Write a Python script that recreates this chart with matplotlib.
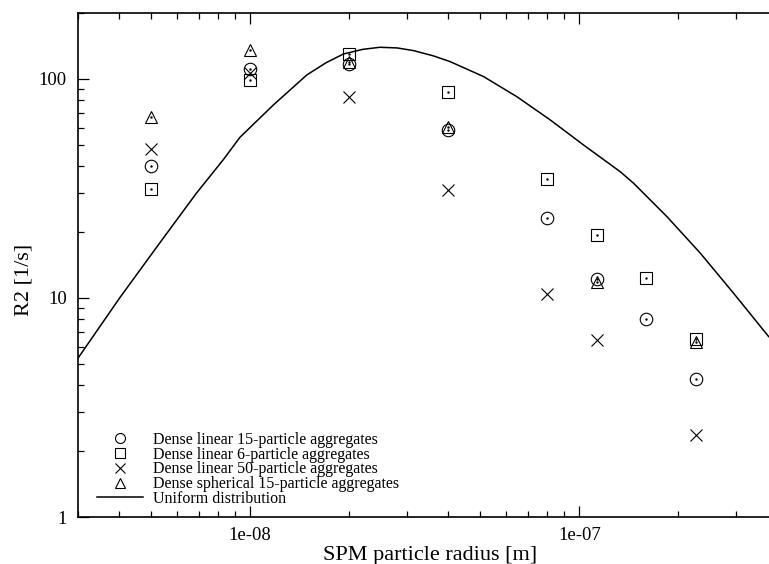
import numpy as np
import matplotlib
matplotlib.use('Agg')
import matplotlib.pyplot as plt
from matplotlib.ticker import LogLocator, FuncFormatter, NullFormatter

plt.rcParams['font.family'] = ['Liberation Serif', 'DejaVu Serif']

# particle radii [m]
radius = [5e-9, 1e-8, 2e-8, 4e-8, 8e-8, 1.13e-7, 1.6e-7, 2.26e-7]

# R2 [1/s] per aggregate type (nan = no point)
lin15 = [40.2, 111, 117, 58.5, 23.3, 12.2, 8.0, 4.28]
lin6 = [31.4, 99, 130, 87.2, 34.8, 19.3, 12.3, 6.48]
lin50 = [47.9, 106, 82.5, 31.1, 10.4, 6.41, np.nan, 2.36]
sph15 = [67.3, 135, 119, 60.4, np.nan, 11.8, np.nan, 6.3]

# uniform distribution curve
uni_r = [3.0e-9, 4.02e-9, 5.31e-9, 6.87e-9, 8.28e-9, 9.32e-9,
         1.177e-8, 1.487e-8, 1.7e-8, 1.921e-8, 2.2e-8, 2.48e-8, 2.8e-8,
         3.135e-8, 3.6e-8, 4.05e-8, 5.12e-8, 6.46e-8, 8.16e-8, 1.031e-7,
         1.332e-7, 1.462e-7, 1.847e-7, 2.333e-7, 2.944e-7, 3.762e-7]
uni_r2 = [5.31, 10.03, 17.8, 30.1, 42.7, 54.2, 76.1, 104.3, 118.5,
          130, 136.5, 139.5, 138.5, 134.7, 127.5, 120, 102.5, 83, 65, 49.9,
          37.7, 33.4, 23.5, 16.0, 10.5, 6.66]

labels = ['Dense linear 15-particle aggregates',
          'Dense linear 6-particle aggregates',
          'Dense linear 50-particle aggregates',
          'Dense spherical 15-particle aggregates',
          'Uniform distribution']

fig = plt.figure(figsize=(7.69, 5.64), dpi=100)
ax = fig.add_axes([78 / 769, 1 - 517 / 564, 691 / 769, 504 / 564])

lw = 0.8
series = [(lin15, 'o', 9), (lin6, 's', 8.5), (lin50, 'x', 9), (sph15, '^', 8.5)]
for (vals, mk, ms), lab in zip(series, labels[:4]):
    ax.plot(radius, vals, linestyle='none', marker=mk, markersize=ms,
            markerfacecolor='none', markeredgecolor='black',
            markeredgewidth=lw, label=lab)
    if mk != 'x':
        ax.plot(radius, vals, linestyle='none', marker='.', markersize=1.5,
                color='black')
ax.plot(uni_r, uni_r2, color='black', linewidth=1.1, label=labels[4])

ax.set_xscale('log')
ax.set_yscale('log')
ax.set_xlim(3e-9, 3.77e-7)
ax.set_ylim(1, 200)

ax.xaxis.set_major_locator(LogLocator(base=10))
ax.xaxis.set_minor_locator(LogLocator(base=10, subs=np.arange(2, 10)))
ax.xaxis.set_major_formatter(FuncFormatter(lambda v, p: '%.0e' % v))
ax.xaxis.set_minor_formatter(NullFormatter())
ax.yaxis.set_major_locator(LogLocator(base=10))
ax.yaxis.set_minor_locator(LogLocator(base=10, subs=np.arange(2, 10)))
ax.yaxis.set_major_formatter(FuncFormatter(lambda v, p: '%g' % v))
ax.yaxis.set_minor_formatter(NullFormatter())

ax.tick_params(which='both', direction='in', top=True, right=False,
               labelsize=13.5, width=0.9)
ax.tick_params(which='major', length=8)
ax.tick_params(which='minor', length=4)
ax.tick_params(axis='x', pad=7)
ax.tick_params(axis='y', pad=8)
ax.spines['right'].set_visible(False)
for s in ['left', 'bottom', 'top']:
    ax.spines[s].set_linewidth(1.2)

ax.set_xlabel('SPM particle radius [m]', fontsize=16)
ax.set_ylabel('R2 [1/s]', fontsize=16)
ax.xaxis.set_label_coords(0.51, -0.057)
ax.yaxis.set_label_coords(-0.064, 0.47)

h, l = ax.get_legend_handles_labels()
leg = ax.legend(h[:5], l[:5], loc='lower left', bbox_to_anchor=(0.027, 0.02),
                frameon=False, fontsize=11.5, labelspacing=-0.08,
                handlelength=2.9, handletextpad=0.6, borderpad=0,
                borderaxespad=0, markerscale=0.8)

fig.savefig('out.png', dpi=100)
